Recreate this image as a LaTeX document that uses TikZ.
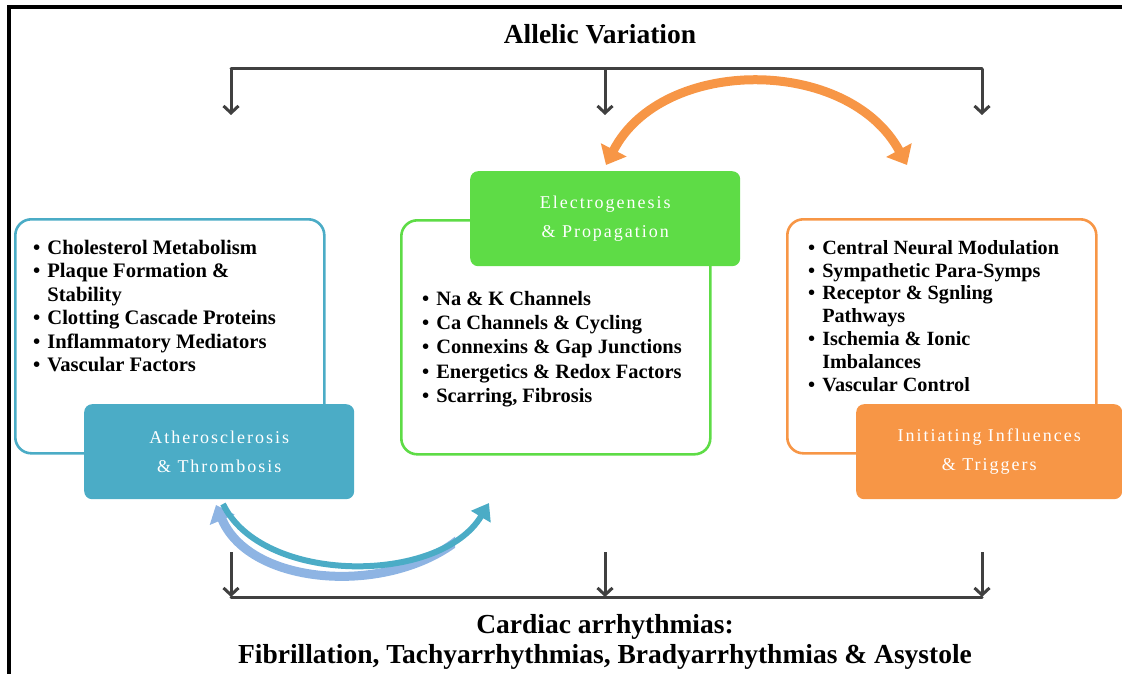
\documentclass[tikz,border=0pt]{standalone}
\usepackage{fontspec}
\setmainfont{Liberation Serif}
\usetikzlibrary{arrows.meta,positioning,calc}
\definecolor{athblue}{HTML}{4BACC6}
\definecolor{paleblue}{HTML}{8EB4E3}
\definecolor{elegreen}{HTML}{5EDC46}
\definecolor{trigorange}{HTML}{F79646}
\definecolor{darkgray}{HTML}{404040}
\newcommand{\bitem}{\textbullet\hspace{7pt}}
\newcommand{\bhang}{\phantom{\textbullet}\hspace{7pt}}

\begin{document}
\begin{tikzpicture}[x=1pt,y=-1pt,
  outline/.style={draw,line width=2.6pt,rounded corners=16pt,minimum width=309pt,
    minimum height=234pt,anchor=north west,inner sep=0pt},
  headbox/.style={rounded corners=8pt,minimum width=270pt,minimum height=95pt,
    anchor=north west,text=white,align=center,inner sep=0pt,
    font=\fontsize{18}{28.5}\selectfont\addfontfeature{LetterSpace=11}},
  bullets/.style={anchor=north west,align=left,inner sep=0pt,
    font=\fontsize{20.6}{23.4}\selectfont\bfseries},
  heading/.style={font=\fontsize{27.5}{30}\selectfont\bfseries,align=center},
  feed/.style={draw=darkgray,line width=3pt,-{Straight Barb[length=7pt,width=15pt]}},
  bar/.style={draw=darkgray,line width=3pt,line cap=round}
]
\useasboundingbox (0,0) rectangle (1122,674);
% frame
\draw[line width=3.5pt] (9,700) -- (9,7) -- (1130,7);

% titles
\node[heading] (allelic) at (600,34) {Allelic Variation};
\node[heading] (cardiac) at (605,642) {Cardiac arrhythmias:\\Fibrillation, Tachyarrhythmias, Bradyarrhythmias \& Asystole};

% top bracket
\coordinate (tl) at (231,69);
\coordinate (tm) at (605,69);
\coordinate (tr) at (982,69);
\draw[bar] (tl) -- (tr);
\draw[feed] (tl) -- ++(0,46);
\draw[feed] (tm) -- ++(0,46);
\draw[feed] (tr) -- ++(0,46);

% bottom bracket
\coordinate (bl) at (231,597);
\coordinate (bm) at (605,597);
\coordinate (br) at (982,597);
\draw[bar] (bl) -- (br);
\draw[feed] ($(bl)+(0,-45)$) -- (bl);
\draw[feed] ($(bm)+(0,-45)$) -- (bm);
\draw[feed] ($(br)+(0,-45)$) -- (br);

% outline boxes
\node[outline,draw=athblue] (athout) at (14,218) {};
\node[outline,draw=elegreen] (eleout) at (400,219) {};
\node[outline,draw=trigorange] (trigout) at (786,218) {};

% filled header boxes
\node[headbox,fill=athblue] (ath) at (84,404) {Atherosclerosis\\\& Thrombosis};
\node[headbox,fill=elegreen] (ele) at (470,171) {Electrogenesis\\\& Propagation};
\node[headbox,fill=trigorange,minimum width=266pt] (trig) at (856,404) {Initiating Influences\\\& Triggers};

% bullet lists
\node[bullets] (athlist) at (33,240) {\bitem Cholesterol Metabolism\\
  \bitem Plaque Formation \&\\ \bhang Stability\\
  \bitem Clotting Cascade Proteins\\
  \bitem Inflammatory Mediators\\
  \bitem Vascular Factors};
\node[bullets,font=\fontsize{20.4}{24.3}\selectfont\bfseries] (elelist) at (422,291) {\bitem Na \& K Channels\\
  \bitem Ca Channels \& Cycling\\
  \bitem Connexins \& Gap Junctions\\
  \bitem Energetics \& Redox Factors\\
  \bitem Scarring, Fibrosis};
\node[bullets,font=\fontsize{20.2}{22.8}\selectfont\bfseries] (triglist) at (808,240) {\bitem Central Neural Modulation\\
  \bitem Sympathetic Para-Symps\\
  \bitem Receptor \& Sgnling\\ \bhang Pathways\\
  \bitem Ischemia \& Ionic\\ \bhang Imbalances\\
  \bitem Vascular Control};

% orange two-way arc
\coordinate (oa) at (606,165);
\coordinate (ob) at (907,165);
\draw[trigorange,line width=9pt,{Triangle[length=17pt,width=28pt]}-{Triangle[length=17pt,width=28pt]}]
  (oa) .. controls (662,56) and (848,56) .. (ob);

% blue arc
\coordinate (ba) at (216,505);
\coordinate (bb) at (489,503);
\begin{scope}
  \clip (150,480) rectangle (455,620);
  \draw[paleblue,line width=9pt,{Triangle[length=16pt,width=26pt]}-]
    (ba) .. controls (255,598) and (440,598) .. (bb);
\end{scope}
\draw[athblue,line width=6pt,-{Triangle[length=16pt,width=22pt]}]
  ($(ba)+(7,-1)$) .. controls (262,585) and (440,585) .. (bb);
\end{tikzpicture}
\end{document}
